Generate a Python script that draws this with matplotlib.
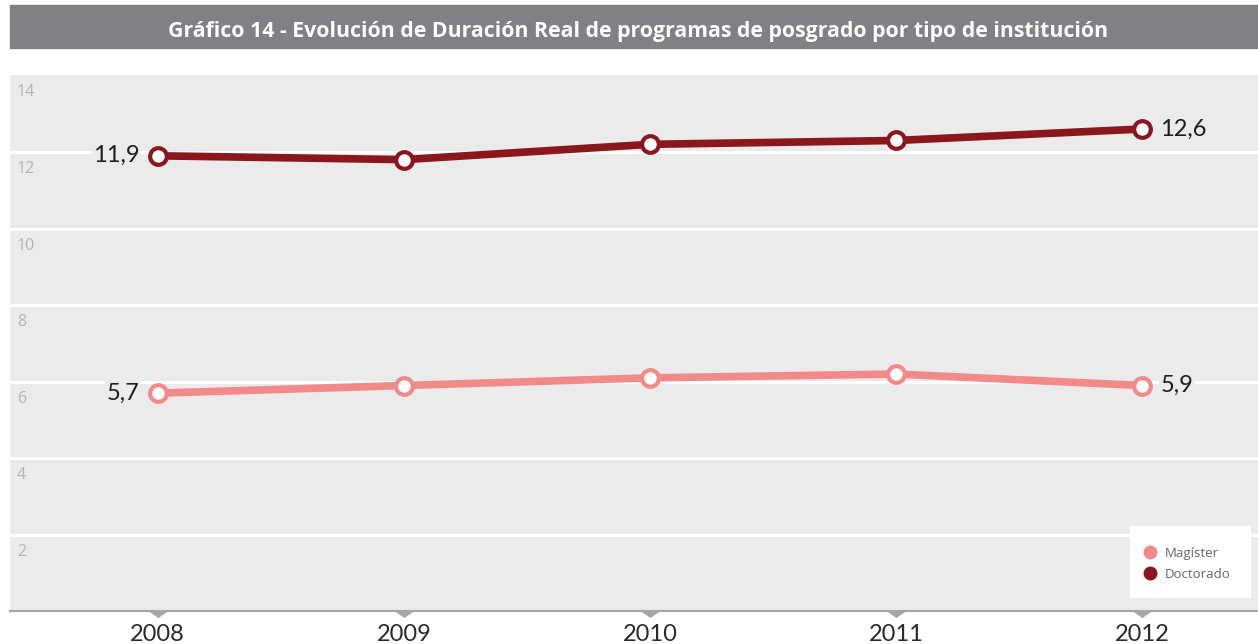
import matplotlib
matplotlib.use("Agg")
import matplotlib.pyplot as plt
from matplotlib.lines import Line2D
from matplotlib.patches import Rectangle
from matplotlib.path import Path

years = [2008, 2009, 2010, 2011, 2012]
magister = [5.7, 5.9, 6.1, 6.2, 5.9]
doctorado = [11.9, 11.8, 12.2, 12.3, 12.6]
y_ticks = [2, 4, 6, 8, 10, 12, 14]
title = "Gráfico 14 - Evolución de Duración Real de programas de posgrado por tipo de institución"

mag_color = "#F38A8A"
doc_color = "#8A161E"
bg = "#EBEBEB"

W, H = 1258, 644
fig = plt.figure(figsize=(W / 100, H / 100), dpi=100)

# title bar
fig.patches.append(Rectangle((10 / W, 1 - 48 / H), 1 - 10 / W, 43 / H,
                             transform=fig.transFigure, color="#808184", zorder=0))
fig.text(638 / W, 1 - 31 / H, title, ha="center", va="center", color="white",
         fontsize=15.3, fontweight="bold",
         family=["Liberation Sans Narrow", "Open Sans", "DejaVu Sans"])

ax = fig.add_axes([10 / W, (H - 611.4) / H, 1 - 10 / W, 536 / H])
ax.set_facecolor(bg)
ax.set_ylim(0, 14)
ax.set_xlim(2007.4, 2012.47)

for v in y_ticks[:-1]:
    ax.axhline(v, color="white", lw=2.2, zorder=1)
for v in y_ticks:
    ax.annotate(str(v), (0, v), xycoords=("axes fraction", "data"),
                xytext=(5, -6.5), textcoords="offset points", ha="left", va="top",
                color="#B3B3B3", fontsize=11.5, family="Open Sans")

ax.plot(years, magister, color=mag_color, lw=5.5, marker="o", ms=12,
        mfc="white", mec=mag_color, mew=3, zorder=3)
ax.plot(years, doctorado, color=doc_color, lw=5.5, marker="o", ms=12,
        mfc="white", mec=doc_color, mew=3, zorder=3)

box = dict(facecolor=bg, edgecolor="none", pad=1)
lab_font = dict(fontsize=17, family="Lato", color="#1E1E1E")
for series in (magister, doctorado):
    ax.annotate(f"{series[0]:.1f}".replace(".", ","), (years[0], series[0]),
                xytext=(-13, 0), textcoords="offset points", ha="right", va="center",
                bbox=box, zorder=2, **lab_font)
    ax.annotate(f"{series[-1]:.1f}".replace(".", ","), (years[-1], series[-1]),
                xytext=(13, 0), textcoords="offset points", ha="left", va="center",
                bbox=box, zorder=2, **lab_font)

ax.set_yticks([])
ax.set_xticks(years)
ax.set_xticklabels([str(y) for y in years], fontsize=17, family="Lato",
                   color="#2A2A2A")
ax.tick_params(axis="x", length=0, pad=9)
for s in ("top", "left", "right"):
    ax.spines[s].set_visible(False)
ax.spines["bottom"].set_color("#A6A6A6")
ax.spines["bottom"].set_linewidth(1.5)

# small triangles hanging under the axis line
tri = Path([(-1, 0), (1, 0), (0, -0.7), (-1, 0)],
           [Path.MOVETO, Path.LINETO, Path.LINETO, Path.CLOSEPOLY])
ax.plot(years, [0] * len(years), ls="none", marker=tri, ms=13.5, color="#A6A6A6",
        mew=0, clip_on=False, zorder=4)

# legend: white box drawn separately, legend itself without frame
fig.patches.append(Rectangle((1130 / W, 1 - 597 / H), 120 / W, 71 / H,
                             transform=fig.transFigure, color="white", zorder=5))
handles = [Line2D([], [], ls="none", marker="o", ms=9, color=mag_color),
           Line2D([], [], ls="none", marker="o", ms=9, color=doc_color)]
leg = fig.legend(handles, ["Magíster", "Doctorado"], loc="upper left",
                 bbox_to_anchor=(1143 / W, 1 - 547 / H), borderaxespad=0, borderpad=0,
                 frameon=False, labelcolor="#666666", handlelength=1,
                 handletextpad=0.65, labelspacing=0.6,
                 prop={"family": ["Liberation Sans Narrow", "Open Sans"], "size": 9.5})
leg.set_zorder(6)

fig.savefig("out.png", dpi=100)
